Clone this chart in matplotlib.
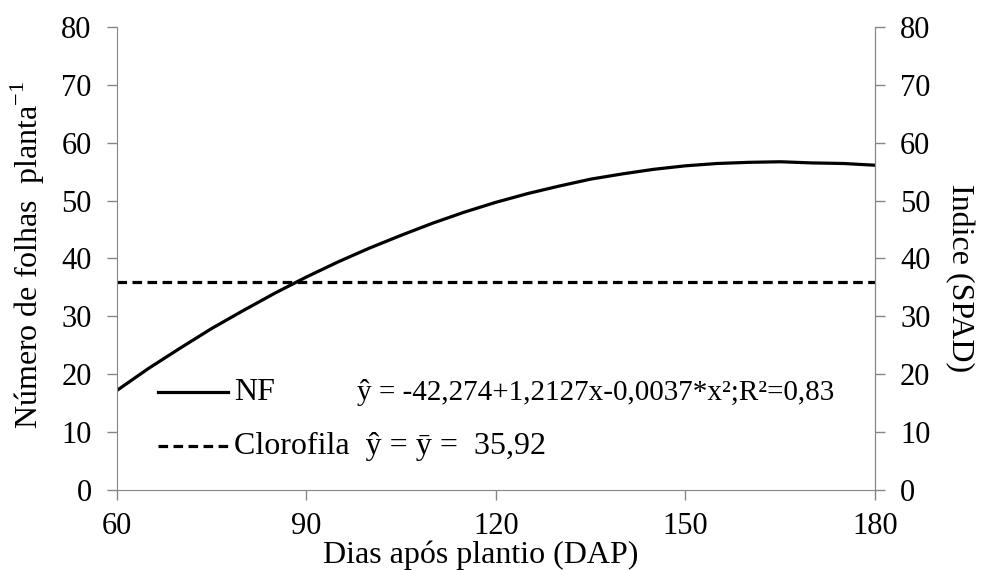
import matplotlib
matplotlib.use("Agg")
import matplotlib.pyplot as plt

# dias apos plantio
dap = [60, 65, 70, 75, 80, 85, 90, 95, 100, 105, 110, 115, 120,
       125, 130, 135, 140, 145, 150, 155, 160, 165, 170, 175, 180]
# numero de folhas (curva ajustada)
nf = [17.2, 21.0, 24.5, 27.9, 31.0, 34.0, 36.8, 39.4, 41.8, 44.0, 46.1, 48.0, 49.7,
      51.2, 52.5, 53.7, 54.6, 55.4, 56.0, 56.4, 56.6, 56.7, 56.5, 56.4, 56.1]
# clorofila (media)
clorofila = [35.92, 35.92]
clor_x = [60, 180]

xticks = [60, 90, 120, 150, 180]
yticks = [0, 10, 20, 30, 40, 50, 60, 70, 80]

plt.rcParams['font.family'] = ['Liberation Serif', 'DejaVu Serif']
plt.rcParams['mathtext.fontset'] = 'custom'
plt.rcParams['mathtext.rm'] = 'Liberation Serif'
FS_TICK = 22
FS_LAB = 23
FS_EQ = 21
LW = 2.3
DASH = (0, (3, 1.7))
GRAY = '#868686'

fig = plt.figure(figsize=(9.81, 5.70), dpi=100)
ax = fig.add_axes([0.119, 0.140, 0.773, 0.813])

ax.plot(dap, nf, color='black', lw=LW)
ax.plot(clor_x, clorofila, color='black', lw=LW, ls=DASH)

ax.set_xlim(60, 180)
ax.set_ylim(0, 80)
ax.set_xticks(xticks)
ax.set_yticks(yticks)
ax.tick_params(labelsize=FS_TICK, color=GRAY, length=7, width=1, direction='out')
ax.tick_params(axis='y', pad=11)
ax.tick_params(axis='x', pad=9)
ax.spines['top'].set_visible(False)
for s in ['left', 'bottom', 'right']:
    ax.spines[s].set_color(GRAY)
ax.set_xlabel('Dias após plantio (DAP)', fontsize=FS_LAB)
ax.xaxis.set_label_coords(0.480, -0.108)
ax.set_ylabel('Número de folhas  planta$^{\\mathregular{-1}}$', fontsize=FS_LAB)
ax.yaxis.set_label_coords(-0.092, 0.508)

ax2 = ax.twinx()
ax2.set_ylim(0, 80)
ax2.set_yticks(yticks)
ax2.tick_params(labelsize=FS_TICK, color=GRAY, length=7, width=1, direction='out', pad=11)
ax2.spines['top'].set_visible(False)
ax2.spines['right'].set_color(GRAY)
ax2.spines['left'].set_visible(False)
ax2.spines['bottom'].set_visible(False)
ax2.set_ylabel('Indice (SPAD)', fontsize=FS_LAB, rotation=270, va='bottom')
ax2.yaxis.set_label_coords(1.092, 0.458)

# legenda manual
ax.plot([66.6, 77.6], [16.9, 16.9], color='black', lw=LW)
ax.text(78.6, 16.9, 'NF', fontsize=FS_LAB, va='center', ha='left')
ax.text(98.0, 16.9, 'ŷ = -42,274+1,2127x-0,0037*x²;R²=0,83',
        fontsize=FS_EQ, va='center', ha='left')
ax.plot([66.6, 77.6], [7.6, 7.6], color='black', lw=LW, ls=DASH)
ax.text(78.6, 7.6, 'Clorofila  ŷ = ȳ =  35,92', fontsize=FS_LAB, va='center', ha='left')

fig.savefig('out.png', dpi=100)
